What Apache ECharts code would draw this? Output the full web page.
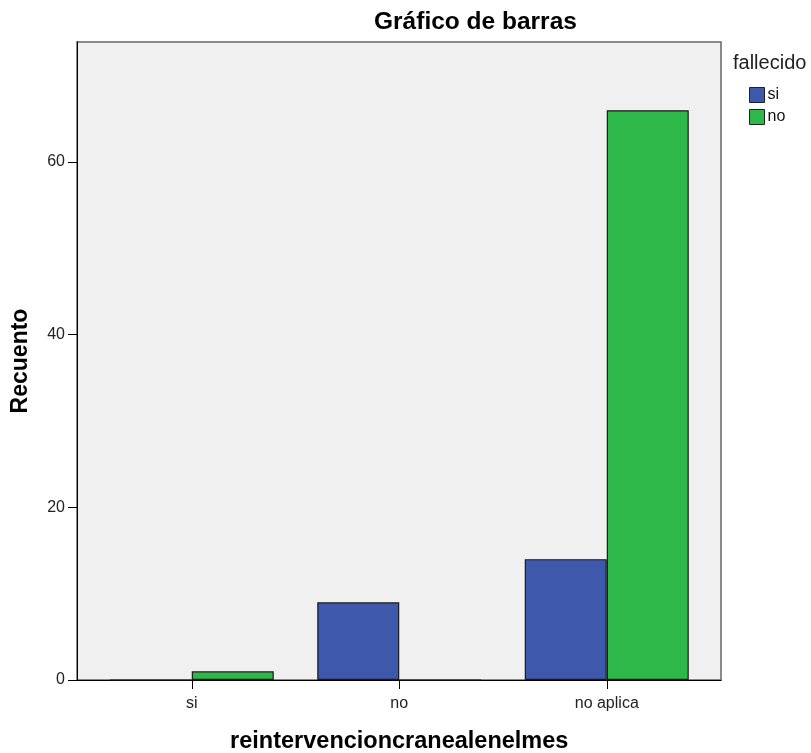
<!DOCTYPE html>
<html>
<head>
<meta charset="utf-8">
<script src="https://cdn.jsdelivr.net/npm/echarts@6/dist/echarts.min.js"></script>
<style>html,body{margin:0;padding:0;background:#fff;}#c{width:811px;height:753px;}</style>
</head>
<body>
<div id="c"></div>
<script>
const categories = ['si', 'no', 'no aplica'];
const seriesNames = ['si', 'no'];
const valuesSi = [0, 9, 14];
const valuesNo = [1, 0, 66];
const yTicks = [0, 20, 40, 60];

const FONT = "'Liberation Sans', Arial, sans-serif";
const chart = echarts.init(document.getElementById('c'), null, {renderer: 'canvas'});
chart.setOption({
  animation: false,
  backgroundColor: '#ffffff',
  title: {
    text: 'Gráfico de barras',
    left: 374, top: 10, padding: 0,
    textStyle: {fontFamily: FONT, fontSize: 24.5, fontWeight: 'bold', color: '#000'}
  },
  graphic: [{
    type: 'text', left: 733, top: 53,
    style: {text: 'fallecido', fontFamily: FONT, fontSize: 20, fill: '#222'}
  }],
  legend: {
    orient: 'vertical', left: 749, top: 87, padding: 0,
    itemWidth: 15, itemHeight: 15, itemGap: 6,
    icon: 'rect',
    data: seriesNames,
    textStyle: {fontFamily: FONT, fontSize: 16, color: '#111', padding: [2, 0, 0, -2]},
    itemStyle: {borderColor: '#222', borderWidth: 1}
  },
  grid: [
    {left: 77, top: 42, width: 644, height: 638, show: true, backgroundColor: '#F0F0F0', borderColor: '#666', borderWidth: 1.5, outerBoundsMode: 'none', containLabel: false},
    {left: 88, top: 42, width: 622.5, height: 638, outerBoundsMode: 'none', containLabel: false}
  ],
  xAxis: [
    {gridIndex: 0, type: 'value', min: 0, max: 1, axisLine: {show: true, onZero: false, lineStyle: {color: '#000', width: 1}}, axisTick: {show: false}, axisLabel: {show: false}, splitLine: {show: false}},
    {gridIndex: 1, type: 'category', data: categories, boundaryGap: true,
     axisLine: {show: false},
     axisTick: {show: true, alignWithLabel: true, length: 9, lineStyle: {color: '#000'}},
     axisLabel: {fontFamily: FONT, fontSize: 16, color: '#222', margin: 16},
     name: 'reintervencioncranealenelmes', nameLocation: 'middle', nameGap: 50,
     nameTextStyle: {fontFamily: FONT, fontSize: 23.5, fontWeight: 'bold', color: '#000'}}
  ],
  yAxis: [
    {gridIndex: 0, type: 'value', min: 0, max: 1, axisLine: {show: true, lineStyle: {color: '#000', width: 1}}, axisTick: {show: false}, axisLabel: {show: false}, splitLine: {show: false}},
    {gridIndex: 1, type: 'value', min: 0, max: 73.9, interval: 20, offset: 11,
     axisLine: {show: true, lineStyle: {color: '#000', width: 1}},
     axisTick: {show: true, length: 9, lineStyle: {color: '#000'}, customValues: yTicks},
     axisLabel: {fontFamily: FONT, fontSize: 16, color: '#222', margin: 12, customValues: yTicks},
     splitLine: {show: false},
     name: 'Recuento', nameLocation: 'middle', nameGap: 45,
     nameTextStyle: {fontFamily: FONT, fontSize: 23, fontWeight: 'bold', color: '#000'}}
  ],
  series: [
    {name: seriesNames[0], type: 'bar', xAxisIndex: 1, yAxisIndex: 1, data: valuesSi, barWidth: 82, barGap: '0%',
     itemStyle: {color: '#3E58AC', borderColor: '#1a1a1a', borderWidth: 1.2}},
    {name: seriesNames[1], type: 'bar', xAxisIndex: 1, yAxisIndex: 1, data: valuesNo, barWidth: 82, barGap: '0%',
     itemStyle: {color: '#2FB84A', borderColor: '#1a1a1a', borderWidth: 1.2}}
  ]
});
</script>
</body>
</html>
